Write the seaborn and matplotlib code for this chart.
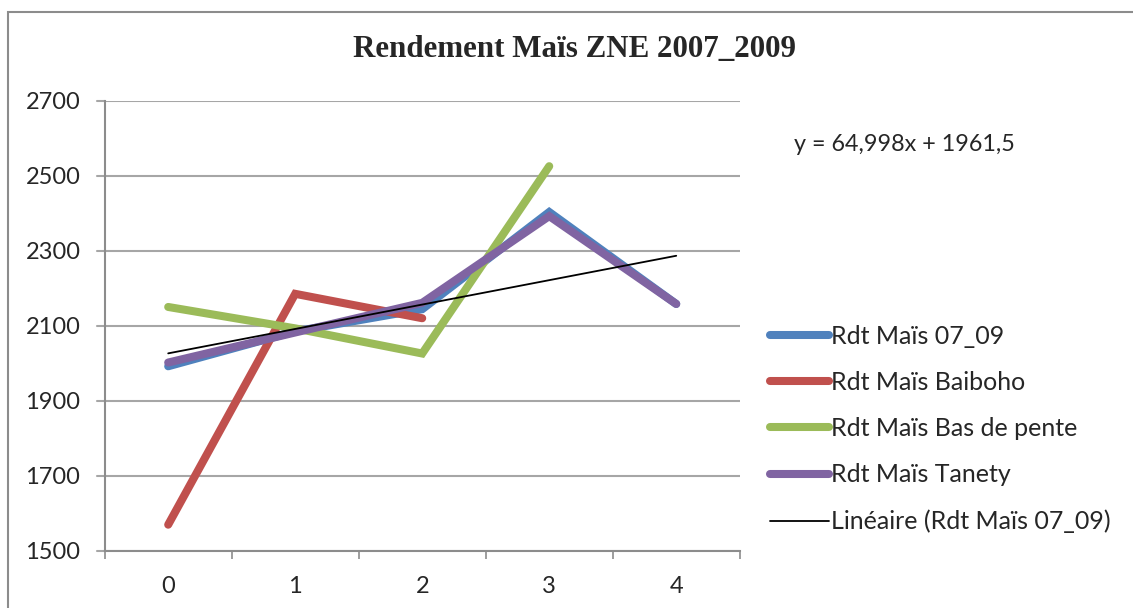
import numpy as np
import pandas as pd
import matplotlib
matplotlib.use('Agg')
import matplotlib.pyplot as plt
import seaborn as sns
from matplotlib.patches import Rectangle

# data
x_vals = [0, 1, 2, 3, 4]
rdt_07_09 = [1992, 2085, 2144, 2403, 2158]
rdt_baiboho = [1570, 2185, 2120]
rdt_bas_pente = [2150, 2093, 2026, 2525]
rdt_tanety = [2002, 2082, 2161, 2392, 2158]
series_names = ['Rdt Maïs 07_09', 'Rdt Maïs Baiboho', 'Rdt Maïs Bas de pente', 'Rdt Maïs Tanety']
trend_label = 'Linéaire (Rdt Maïs 07_09)'
equation = 'y = 64,998x + 1961,5'
title = 'Rendement Maïs ZNE 2007_2009'
colors = ['#4F81BD', '#C0504D', '#9BBB59', '#8064A2']

# long form table
rows = []
for name, vals in zip(series_names, [rdt_07_09, rdt_baiboho, rdt_bas_pente, rdt_tanety]):
    for i, v in enumerate(vals):
        rows.append({'x': x_vals[i], 'val': v, 'serie': name})
df = pd.DataFrame(rows)

sns.set_style('white')
plt.rcParams['font.family'] = ['Lato', 'DejaVu Sans']

fig = plt.figure(figsize=(11.33, 6.08), dpi=100)
ax = fig.add_axes([0.0924, 0.0938, 0.5605, 0.7409])

sns.lineplot(data=df, x='x', y='val', hue='serie', hue_order=series_names,
             palette=colors, linewidth=5.8, legend=False, ax=ax,
             solid_capstyle='round', solid_joinstyle='miter')

# linear trend of the 07_09 series (Excel uses x = 1..5)
coef = np.polyfit(np.arange(1, 6), rdt_07_09, 1)
trend = np.polyval(coef, np.arange(1, 6))
sns.lineplot(x=x_vals, y=trend, color='black', linewidth=1.3, ax=ax)

ax.set_xlim(-0.5, 4.5)
ax.set_ylim(1500, 2700)
ax.set_yticks(np.arange(1500, 2701, 200))
ax.set_xticks(x_vals)
ax.set_xticks(np.arange(-0.5, 4.6, 1), minor=True)
ax.set_xlabel('')
ax.set_ylabel('')
ax.grid(axis='y', color='#a6a6a6', linewidth=1.5)
ax.set_axisbelow(True)
for s in ['top', 'right']:
    ax.spines[s].set_visible(False)
for s in ['left', 'bottom']:
    ax.spines[s].set_color('#8c8c8c')
    ax.spines[s].set_linewidth(1.5)
ax.tick_params(axis='y', direction='out', length=5.5, width=1.2, color='#8c8c8c',
               pad=12, labelsize=17, left=True)
ax.tick_params(axis='x', which='major', length=0, pad=18, labelsize=17)
ax.tick_params(axis='x', which='minor', direction='out', length=5.5, width=1.2,
               color='#8c8c8c', bottom=True)

# the gridlines in Excel reach out over the ticks
for v in np.arange(1500, 2701, 200):
    ax.plot([-0.56, -0.5], [v, v], color='#a6a6a6', lw=1.5, clip_on=False)

fig.text(0.507, 0.918, title, ha='center', va='center', fontsize=22.3,
         fontweight='bold', family='Liberation Serif')
fig.text(0.701, 0.762, equation, ha='left', va='center', fontsize=16.8)

handles = ax.get_lines()[:5]
fig.legend(handles, series_names + [trend_label], loc='upper left',
           bbox_to_anchor=(0.68, 0.466), frameon=False, fontsize=18,
           handlelength=2.36, handletextpad=0.08, labelspacing=0.93,
           borderaxespad=0, borderpad=0)

# outer chart border, cut by the image edge
fig.add_artist(Rectangle((8 / 1133, -0.2), 1.2, 0.2 + 1 - 12 / 608,
                         transform=fig.transFigure, fill=False,
                         edgecolor='#8c8c8c', linewidth=1.5, clip_on=False))

fig.savefig('out.png', dpi=100)
